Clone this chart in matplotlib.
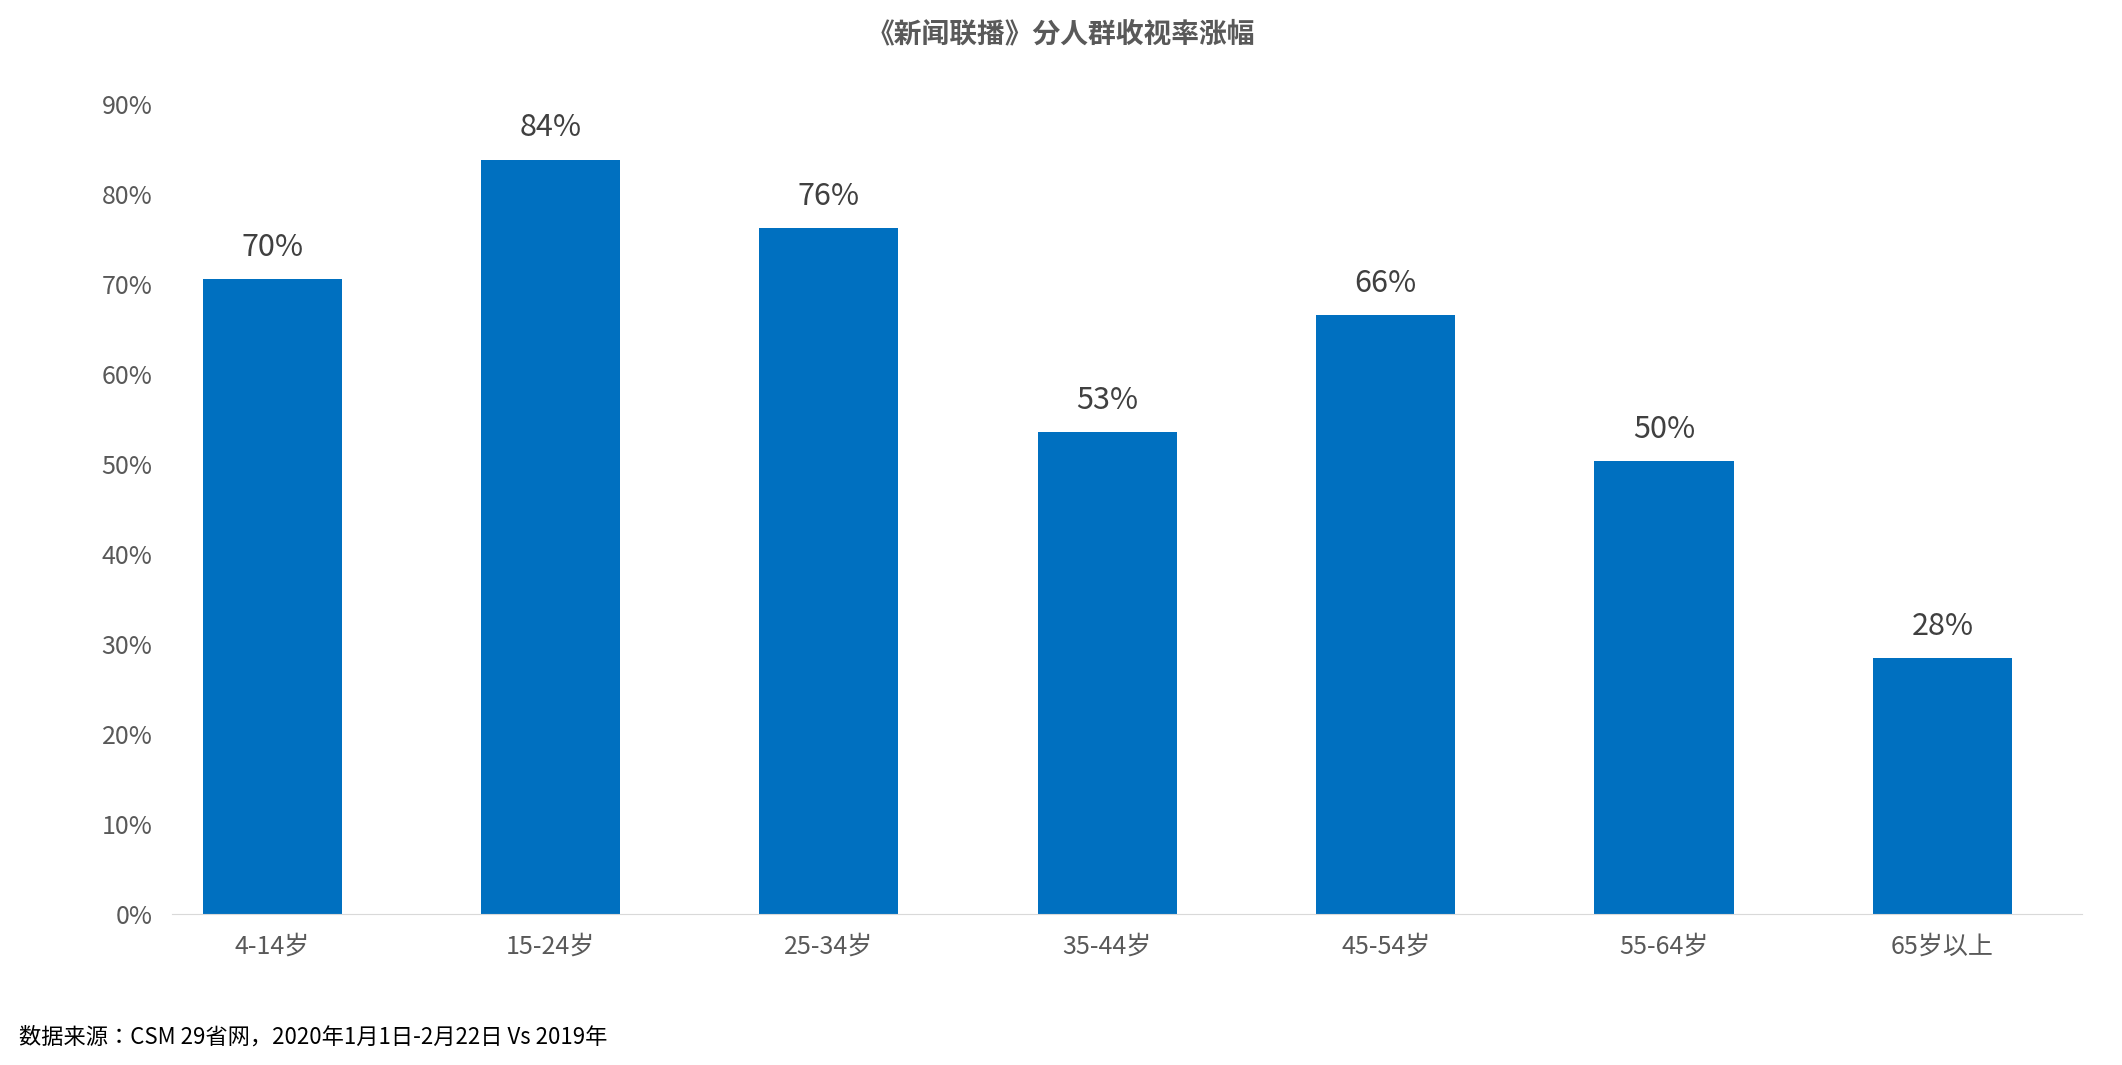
import matplotlib.pyplot as plt
from matplotlib import font_manager

# find an installed CJK font file and register it
cjk_family = 'DejaVu Sans'
for path in font_manager.findSystemFonts():
    if 'NotoSansCJK' in path.replace(' ', '') or 'NotoSansSC' in path:
        font_manager.fontManager.addfont(path)
        cjk_family = font_manager.FontProperties(fname=path).get_name()
        break
plt.rcParams['font.family'] = [cjk_family, 'Noto Sans CJK SC', 'Noto Sans CJK JP', 'DejaVu Sans']

categories = ['4-14岁', '15-24岁', '25-34岁', '35-44岁', '45-54岁', '55-64岁', '65岁以上']
values = [70.5, 83.8, 76.2, 53.5, 66.5, 50.3, 28.4]
labels = ['70%', '84%', '76%', '53%', '66%', '50%', '28%']
yticks = [0, 10, 20, 30, 40, 50, 60, 70, 80, 90]

fig = plt.figure(figsize=(21.22, 10.65), dpi=100)
ax = fig.add_axes([0.081, 0.142, 0.9, 0.7606])

x = range(len(categories))
ax.bar(x, values, width=0.5, color='#0070C0')
for i, v in enumerate(values):
    ax.text(i, v + 1.8, labels[i], ha='center', va='bottom', fontsize=22, color='#404040')

ax.set_xlim(-0.36, 6.5)
ax.set_ylim(0, 90)
ax.set_yticks(yticks)
ax.set_yticklabels([f'{t}%' for t in yticks], fontsize=18, color='#595959')
ax.set_xticks(list(x))
ax.set_xticklabels(categories, fontsize=18, color='#595959')
ax.tick_params(length=0, pad=14)
for s in ['top', 'right', 'left']:
    ax.spines[s].set_visible(False)
ax.spines['bottom'].set_color('#D9D9D9')

fig.text(0.5, 0.968, '《新闻联播》分人群收视率涨幅', ha='center', va='center',
         fontsize=20, fontweight='bold', color='#595959')
fig.text(0.009, 0.026, '数据来源：CSM 29省网，2020年1月1日-2月22日 Vs 2019年',
         ha='left', va='center', fontsize=16, color='black')

plt.savefig('out.png')
plt.close()
